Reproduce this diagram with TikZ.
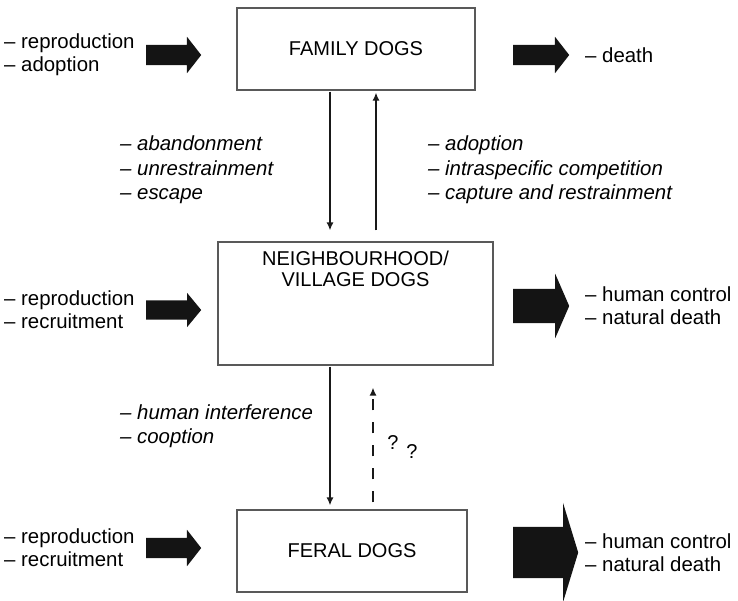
\documentclass[tikz,border=0pt]{standalone}
\usepackage{fontspec}
\setmainfont{Liberation Sans}
\usetikzlibrary{shapes.arrows,arrows.meta}

\begin{document}
\begin{tikzpicture}[
        x=1pt,
        y=1pt,
        dogbox/.style={draw=black!65, line width=1.1pt, inner sep=0pt, font=\fontsize{20}{23}\selectfont},
        boxtext/.style={align=center, inner sep=0pt, font=\fontsize{20}{21}\selectfont},
        sidetext/.style={anchor=west, align=left, inner sep=0pt, font=\fontsize{20.4}{23}\selectfont},
        causetext/.style={sidetext, font=\fontsize{20.4}{24.5}\selectfont\itshape},
        blockarr/.style={single arrow, fill=black!92, draw=none, inner sep=0pt, minimum width=0pt, single arrow head indent=0pt, anchor=tail},
        flow/.style={draw=black!90, line width=1.7pt, -{Latex[length=8pt,width=7pt]}}
    ]
    \useasboundingbox (0,0) rectangle (738,-600);
    % the three kinds of dogs
    \node[dogbox, minimum width=238, minimum height=82] (family) at (356,-49) {FAMILY DOGS};
    \node[dogbox, minimum width=275, minimum height=123] (village) at (355.5,-303.5) {};
    \node[boxtext] (villagename) at (355.5,-269) {NEIGHBOURHOOD/\\VILLAGE DOGS};
    \node[dogbox, minimum width=230, minimum height=82] (feral) at (352,-551) {FERAL DOGS};
    % gains and losses
    \node[blockarr, minimum height=55, inner ysep=10, single arrow head extend=8, single arrow tip angle=104] (famin) at (146,-55) {};
    \node[blockarr, minimum height=56, inner ysep=10, single arrow head extend=8, single arrow tip angle=104] (famout) at (513,-55) {};
    \node[blockarr, minimum height=55, inner ysep=9.5, single arrow head extend=7.5, single arrow tip angle=101] (villin) at (146,-310) {};
    \node[blockarr, minimum height=56, inner ysep=17, single arrow head extend=15, single arrow tip angle=133] (villout) at (513,-306) {};
    \node[blockarr, minimum height=55, inner ysep=10, single arrow head extend=8, single arrow tip angle=104] (ferin) at (146,-548) {};
    \node[blockarr, minimum height=65, inner ysep=25.5, single arrow head extend=24, single arrow tip angle=146] (ferout) at (513,-552.5) {};
    \node[sidetext] (famintext) at (4,-55) {-- reproduction\\-- adoption};
    \node[sidetext] (famouttext) at (585,-55) {-- death};
    \node[sidetext] (villintext) at (4,-310) {-- reproduction\\-- recruitment};
    \node[sidetext] (villouttext) at (585,-306) {-- human control\\-- natural death};
    \node[sidetext] (ferintext) at (4,-548) {-- reproduction\\-- recruitment};
    \node[sidetext] (ferouttext) at (585,-553) {-- human control\\-- natural death};
    % movements between groups
    \node[causetext] (leaving) at (120,-170) {-- abandonment\\-- unrestrainment\\-- escape};
    \node[causetext] (returning) at (428,-170) {-- adoption\\-- intraspecific competition\\-- capture and restrainment};
    \node[causetext] (going) at (120,-426) {-- human interference\\-- cooption};
    \node[boxtext] (q1) at (393,-443) {?};
    \node[boxtext] (q2) at (412,-452) {?};
    \draw[flow, shorten <=1pt, shorten >=11pt] ([xshift=-26]family.south) -- ([xshift=-25.5]village.north);
    \draw[flow, shorten <=11pt, shorten >=2pt] ([xshift=20.5]village.north) -- ([xshift=20]family.south);
    \draw[flow, shorten <=1pt, shorten >=4pt] ([xshift=-25.5]village.south) -- ([xshift=-22]feral.north);
    \draw[flow, dash pattern=on 11pt off 12pt, shorten <=7pt, shorten >=22pt] ([xshift=21]feral.north) -- ([xshift=17.5]village.south);
\end{tikzpicture}
\end{document}
